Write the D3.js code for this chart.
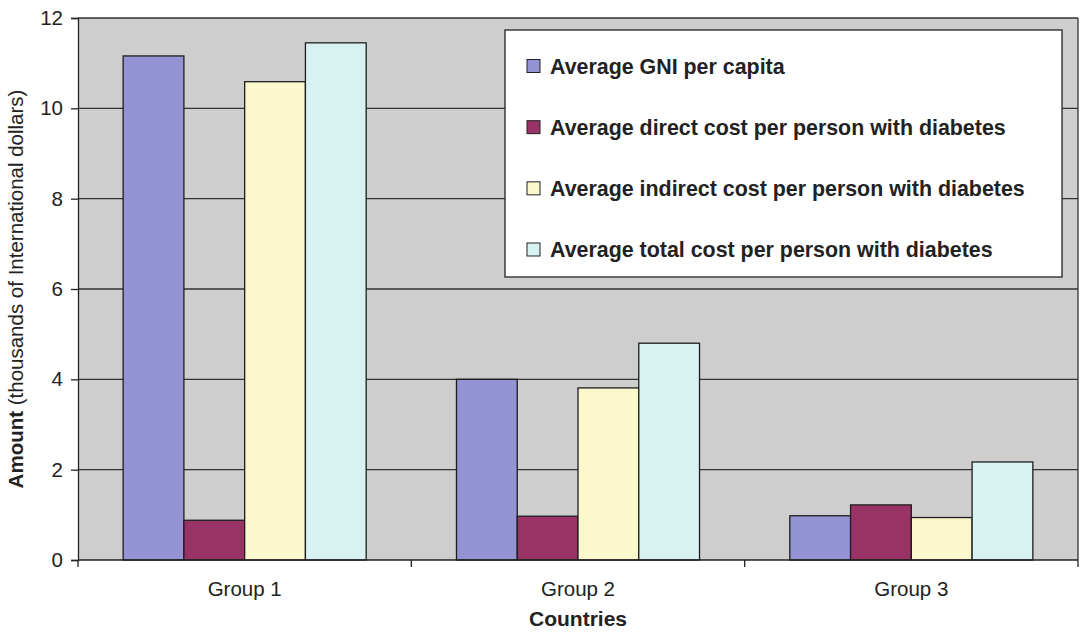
<!DOCTYPE html>
<html>
<head>
<meta charset="utf-8">
<script src="https://cdn.jsdelivr.net/npm/d3@7"></script>
<style>
  html, body { margin: 0; padding: 0; background: #fff; }
  svg { display: block; font-family: "Liberation Sans", Arial, Helvetica, sans-serif; }
</style>
</head>
<body>
<svg id="chart" width="1080" height="632"></svg>
<script>
// Country income groups on the x axis
const groups = ["Group 1", "Group 2", "Group 3"];

// Series names (legend order)
const seriesNames = [
  "Average GNI per capita",
  "Average direct cost per person with diabetes",
  "Average indirect cost per person with diabetes",
  "Average total cost per person with diabetes"
];

// Values in thousands of international dollars, one array per series (Group 1..3)
const gniPerCapita   = [11.16, 4.00, 0.98];
const directCost     = [0.88, 0.97, 1.22];
const indirectCost   = [10.59, 3.81, 0.94];
const totalCost      = [11.45, 4.80, 2.17];

const seriesColors = ["#9494d4", "#993366", "#faf8cc", "#d8f2f2"];
const yTicks = [0, 2, 4, 6, 8, 10, 12];

const series = [gniPerCapita, directCost, indirectCost, totalCost];

const svg = d3.select("#chart");
const plot = { left: 78, right: 1078, top: 18, bottom: 560 };

const x0 = d3.scaleBand().domain(groups).range([plot.left, plot.right]).padding(0);
const x1 = d3.scaleBand().domain(d3.range(series.length))
  .range([0, x0.bandwidth()]).paddingInner(0).paddingOuter(0.743);
const y = d3.scaleLinear().domain([0, 12]).range([plot.bottom, plot.top]);

// plot background
svg.append("rect")
  .attr("x", plot.left).attr("y", plot.top)
  .attr("width", plot.right - plot.left).attr("height", plot.bottom - plot.top)
  .attr("fill", "#cdcecd");

// horizontal gridlines
svg.append("g").selectAll("line").data(yTicks.filter(d => d > 0)).join("line")
  .attr("x1", plot.left).attr("x2", plot.right)
  .attr("y1", d => y(d)).attr("y2", d => y(d))
  .attr("stroke", "#333").attr("stroke-width", 1.3);

// right border
svg.append("line")
  .attr("x1", plot.right).attr("x2", plot.right)
  .attr("y1", plot.top).attr("y2", plot.bottom)
  .attr("stroke", "#333").attr("stroke-width", 1.3);

// bars
const barG = svg.append("g");
groups.forEach((g, gi) => {
  series.forEach((vals, si) => {
    barG.append("rect")
      .attr("x", x0(g) + x1(si))
      .attr("y", y(vals[gi]))
      .attr("width", x1.bandwidth())
      .attr("height", y(0) - y(vals[gi]))
      .attr("fill", seriesColors[si])
      .attr("stroke", "#1e1e1e").attr("stroke-width", 1.3);
  });
});

// y axis
const yAxis = svg.append("g")
  .attr("transform", `translate(${plot.left},0)`)
  .call(d3.axisLeft(y).tickValues(yTicks).tickSize(7).tickPadding(8).tickFormat(d3.format("d")));
yAxis.select(".domain").attr("stroke", "#222").attr("stroke-width", 1.3);
yAxis.selectAll(".tick line").attr("stroke", "#222").attr("stroke-width", 1.3);
yAxis.selectAll(".tick text")
  .attr("font-size", 20.5).attr("fill", "#222")
  .attr("font-family", '"Liberation Sans", Arial, sans-serif');

// x axis with tick marks at group boundaries
const xAxis = svg.append("g")
  .attr("transform", `translate(0,${plot.bottom})`);
xAxis.append("line")
  .attr("x1", plot.left).attr("x2", plot.right)
  .attr("stroke", "#222").attr("stroke-width", 1.3);
const boundaries = groups.map(g => x0(g)).concat([x0.range()[1]]);
xAxis.selectAll("line.tk").data(boundaries).join("line").attr("class", "tk")
  .attr("x1", d => d).attr("x2", d => d).attr("y1", 0).attr("y2", 7)
  .attr("stroke", "#222").attr("stroke-width", 1.3);
xAxis.selectAll("text").data(groups).join("text")
  .attr("x", d => x0(d) + x0.bandwidth() / 2)
  .attr("y", 36)
  .attr("text-anchor", "middle")
  .attr("font-size", 20.5).attr("fill", "#222")
  .text(d => d);

// axis titles
svg.append("text")
  .attr("x", (plot.left + plot.right) / 2).attr("y", 626)
  .attr("text-anchor", "middle")
  .attr("font-size", 21).attr("font-weight", "bold").attr("fill", "#222")
  .text("Countries");

const yTitle = svg.append("text")
  .attr("transform", `translate(23,${(plot.top + plot.bottom) / 2}) rotate(-90)`)
  .attr("text-anchor", "middle")
  .attr("font-size", 20.5).attr("fill", "#222");
yTitle.append("tspan").attr("font-weight", "bold").text("Amount");
yTitle.append("tspan").text(" (thousands of International dollars)");

// legend
const legend = svg.append("g");
legend.append("rect")
  .attr("x", 505).attr("y", 30).attr("width", 557).attr("height", 247)
  .attr("fill", "#fff").attr("stroke", "#222").attr("stroke-width", 1.3);
const rowY = d3.scalePoint().domain(d3.range(seriesNames.length)).range([66, 249.5]);
const items = legend.selectAll("g.item").data(seriesNames).join("g").attr("class", "item")
  .attr("transform", (d, i) => `translate(527,${rowY(i)})`);
items.append("rect")
  .attr("x", 0).attr("y", -6.5).attr("width", 13).attr("height", 13)
  .attr("fill", (d, i) => seriesColors[i]).attr("stroke", "#222").attr("stroke-width", 1);
items.append("text")
  .attr("x", 23).attr("y", 0).attr("dy", "0.35em")
  .attr("font-size", 21.4).attr("font-weight", "bold").attr("fill", "#222")
  .text(d => d);
</script>
</body>
</html>
